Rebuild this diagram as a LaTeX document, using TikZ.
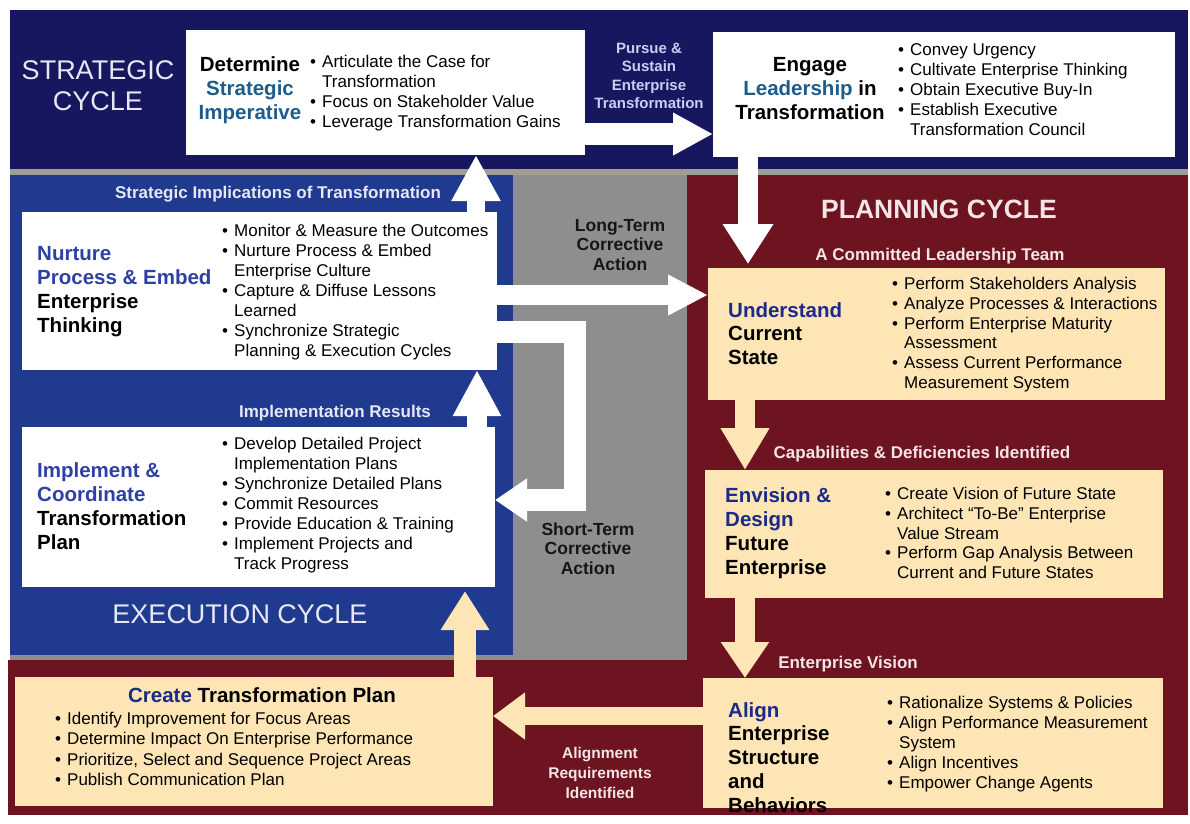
\documentclass[tikz,border=0pt]{standalone}
\usepackage{fontspec}
\setmainfont{Liberation Sans}
\usetikzlibrary{arrows.meta}

\definecolor{navyband}{HTML}{17175F}
\definecolor{royal}{HTML}{1F3A8F}
\definecolor{panelgray}{HTML}{8E8E8E}
\definecolor{stripegray}{HTML}{A09E94}
\definecolor{maroon}{HTML}{6E1420}
\definecolor{beige}{HTML}{FDE5B5}
\definecolor{stratblue}{HTML}{1E5C8C}
\definecolor{execblue}{HTML}{2E40A3}
\definecolor{planblue}{HTML}{1B2A8A}
\definecolor{labelwhite}{HTML}{E6E8F4}
\definecolor{pinkwhite}{HTML}{F4E6E6}
\definecolor{pursueblue}{HTML}{C5D0F2}
\definecolor{darktext}{HTML}{161616}

\newcommand\bu{\makebox[12pt][l]{\textbullet}}
\newcommand\ind{\hspace*{12pt}}

% multi-line nodes are placed by the baseline of their last line
\tikzset{
  wbox/.style={fill=white, draw=none, anchor=north west, inner sep=0pt, outer sep=0pt},
  bbox/.style={fill=beige, draw=none, anchor=north west, inner sep=0pt, outer sep=0pt},
  bul/.style={anchor=base west, align=left, inner sep=0pt, text=black,
    font=\fontsize{17}{20}\selectfont},
  ttl/.style={anchor=base west, align=left, inner sep=0pt, text=black,
    font=\fontsize{20.5}{24}\selectfont\bfseries},
  lbl/.style={anchor=base, align=center, inner sep=0pt,
    font=\fontsize{17}{20}\selectfont\bfseries},
  big/.style={anchor=base, align=center, inner sep=0pt,
    font=\fontsize{27}{31}\selectfont},
  barrow/.style n args={3}{line width=#1, line join=miter,
    -{Triangle[length=#2,width=#3]}},
}

\begin{document}
\begin{tikzpicture}[x=1pt,y=-1pt]
% canvas
\fill[white] (0,0) rectangle (1190,823);
\useasboundingbox (0,0) rectangle (1190,823);

% cycle panels
\fill[stripegray] (10,166) rectangle (1188,660);
\fill[panelgray] (10,175) rectangle (687,660);
\fill[navyband] (10,10) rectangle (1188,169);
\fill[royal] (10,175) rectangle (513,655);
\fill[maroon] (687,175) rectangle (1188,815);
\fill[maroon] (8,660) rectangle (1188,815);

% process boxes
\node[wbox, minimum width=399pt, minimum height=125pt] (imperative) at (186,30) {};
\node[wbox, minimum width=462pt, minimum height=125pt] (engage) at (713,32) {};
\node[wbox, minimum width=475pt, minimum height=158pt] (nurture) at (22,212) {};
\node[wbox, minimum width=473pt, minimum height=160pt] (implement) at (22,427) {};
\node[bbox, minimum width=457pt, minimum height=132pt] (understand) at (708,268) {};
\node[bbox, minimum width=458pt, minimum height=128pt] (envision) at (705,470) {};
\node[bbox, minimum width=460pt, minimum height=130pt] (align) at (703,678) {};
\node[bbox, minimum width=478pt, minimum height=129pt] (create) at (15,677) {};

% connectors
\coordinate (a1) at ([yshift=-41.5pt]imperative.east);
\draw[white, barrow={22pt}{40pt}{40pt}] (a1) -- (a1 -| engage.west);
\coordinate (a2) at ([xshift=-196pt]engage.south);
\draw[white, barrow={20pt}{40pt}{48pt}, shorten >=4pt] (a2) -- (a2 |- understand.north);
\coordinate (a3) at ([xshift=216.5pt]nurture.north);
\draw[white, barrow={18pt}{46pt}{46pt}] (a3) -- (a3 |- imperative.south);
\coordinate (a4) at ([yshift=-4pt]nurture.east);
\draw[white, barrow={20pt}{40pt}{38pt}] (a4) -- (a4 -| understand.west);
\coordinate (l1) at ([yshift=-41pt]nurture.east);
\coordinate (l2) at ([yshift=7pt]implement.east);
\draw[white, barrow={22pt}{32pt}{41pt}] (l1) -- ++(78,0) |- (l2);
\coordinate (a6) at ([xshift=218.5pt]implement.north);
\draw[white, barrow={20pt}{46pt}{45pt}] (a6) -- (a6 |- nurture.south);
\coordinate (a7) at ([xshift=211pt]create.north);
\draw[beige, barrow={22pt}{39pt}{46pt}, shorten >=4pt] (a7) -- (a7 |- implement.south);
\coordinate (a8) at ([xshift=-191.5pt]understand.south);
\draw[beige, barrow={20pt}{42pt}{46pt}] (a8) -- (a8 |- envision.north);
\coordinate (a9) at ([xshift=-189pt]envision.south);
\draw[beige, barrow={20pt}{36pt}{46pt}] (a9) -- (a9 |- align.north);
\coordinate (a10) at ([yshift=27pt]align.west);
\draw[beige, barrow={18pt}{32pt}{45pt}] (a10) -- (a10 -| create.east);

% cycle titles
\node[big, text=labelwhite] (strategic) at (98,110.5) {STRATEGIC\\CYCLE};
\node[big, text=labelwhite] (execution) at (240,623.5) {EXECUTION CYCLE};
\node[big, text=pinkwhite, font=\fontsize{26.5}{31}\selectfont\bfseries] (planning) at (939,218.5) {PLANNING CYCLE};

% transition labels
\node[lbl, text=pursueblue, font=\fontsize{15}{18.5}\selectfont\bfseries] (pursue) at (649,108.5) {Pursue \&\\Sustain\\Enterprise\\Transformation};
\node[lbl, text=labelwhite] (implications) at (278,198.5) {Strategic Implications of Transformation};
\node[lbl, text=labelwhite] (results) at (335,417.5) {Implementation Results};
\node[lbl, text=pinkwhite] (committed) at (940,260.5) {A Committed Leadership Team};
\node[lbl, text=pinkwhite] (capabilities) at (922,458.5) {Capabilities \& Deficiencies Identified};
\node[lbl, text=pinkwhite] (vision) at (848,668.5) {Enterprise Vision};
\node[lbl, text=pinkwhite, font=\fontsize{15.5}{20}\selectfont\bfseries] (requirements) at (600,798) {Alignment\\Requirements\\Identified};
\node[lbl, text=darktext, font=\fontsize{17.5}{19.5}\selectfont\bfseries] (longterm) at (620,270) {Long-Term\\Corrective\\Action};
\node[lbl, text=darktext, font=\fontsize{17.5}{19.5}\selectfont\bfseries] (shortterm) at (588,574) {Short-Term\\Corrective\\Action};

% Determine Strategic Imperative
\node[ttl, anchor=base, align=center] (impT) at (250,119) {Determine\\{\color{stratblue}Strategic}\\{\color{stratblue}Imperative}};
\node[bul] (impB) at (310,127.5) {\bu Articulate the Case for\\\ind Transformation\\\bu Focus on Stakeholder Value\\\bu Leverage Transformation Gains};

% Engage Leadership in Transformation
\node[ttl, anchor=base, align=center] (engT) at (810,119) {Engage\\{\color{stratblue}Leadership} in\\Transformation};
\node[bul] (engB) at (898,135.5) {\bu Convey Urgency\\\bu Cultivate Enterprise Thinking\\\bu Obtain Executive Buy-In\\\bu Establish Executive\\\ind Transformation Council};

% Nurture Process & Embed Enterprise Thinking
\node[ttl] (nurT) at (37,332) {{\color{execblue}Nurture}\\{\color{execblue}Process \& Embed}\\Enterprise\\Thinking};
\node[bul] (nurB) at (222,356.5) {\bu Monitor \& Measure the Outcomes\\\bu Nurture Process \& Embed\\\ind Enterprise Culture\\\bu Capture \& Diffuse Lessons\\\ind Learned\\\bu Synchronize Strategic\\\ind Planning \& Execution Cycles};

% Implement & Coordinate Transformation Plan
\node[ttl] (impcT) at (37,549) {{\color{execblue}Implement \&}\\{\color{execblue}Coordinate}\\Transformation\\Plan};
\node[bul] (impcB) at (222,569.5) {\bu Develop Detailed Project\\\ind Implementation Plans\\\bu Synchronize Detailed Plans\\\bu Commit Resources\\\bu Provide Education \& Training\\\bu Implement Projects and\\\ind Track Progress};

% Understand Current State
\node[ttl, font=\fontsize{20.5}{23.5}\selectfont\bfseries] (undT) at (728,364) {{\color{planblue}Understand}\\Current\\State};
\node[bul, font=\fontsize{17}{19.8}\selectfont] (undB) at (892,388.5) {\bu Perform Stakeholders Analysis\\\bu Analyze Processes \& Interactions\\\bu Perform Enterprise Maturity\\\ind Assessment\\\bu Assess Current Performance\\\ind Measurement System};

% Envision & Design Future Enterprise
\node[ttl] (envT) at (725,574) {{\color{planblue}Envision \&}\\{\color{planblue}Design}\\Future\\Enterprise};
\node[bul, font=\fontsize{17}{19.8}\selectfont] (envB) at (885,578.7) {\bu Create Vision of Future State\\\bu Architect ``To-Be'' Enterprise\\\ind Value Stream\\\bu Perform Gap Analysis Between\\\ind Current and Future States};

% Align Enterprise Structure and Behaviors
\node[ttl, font=\fontsize{20.5}{23.75}\selectfont\bfseries] (aliT) at (728,812) {{\color{planblue}Align}\\Enterprise\\Structure\\and\\Behaviors};
\node[bul] (aliB) at (887,788.5) {\bu Rationalize Systems \& Policies\\\bu Align Performance Measurement\\\ind System\\\bu Align Incentives\\\bu Empower Change Agents};

% Create Transformation Plan
\node[ttl, anchor=base, align=center] (creT) at (262,702) {{\color{planblue}Create} Transformation Plan};
\node[bul, font=\fontsize{17}{20.3}\selectfont] (creB) at (55,785.4) {\bu Identify Improvement for Focus Areas\\\bu Determine Impact On Enterprise Performance\\\bu Prioritize, Select and Sequence Project Areas\\\bu Publish Communication Plan};
\end{tikzpicture}
\end{document}
